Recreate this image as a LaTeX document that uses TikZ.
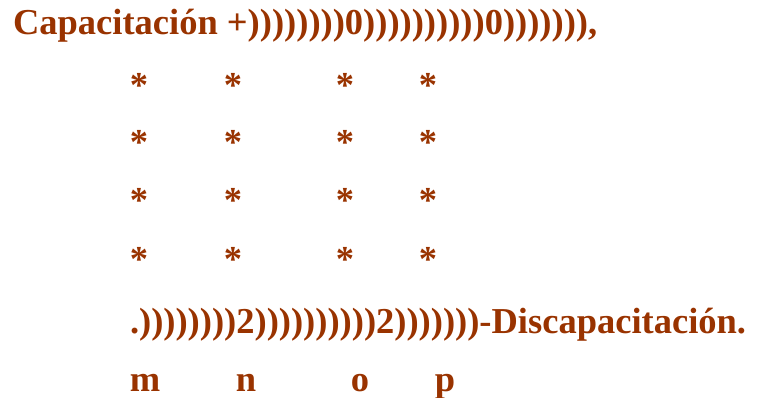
\documentclass[tikz,border=0pt]{standalone}
\usepackage{fontspec}
\setmainfont{Liberation Serif}
\definecolor{rust}{RGB}{153,51,0}
\begin{document}
\begin{tikzpicture}[x=1pt,y=-1pt,
  every node/.style={inner sep=0pt,outer sep=0pt,text=rust,font=\fontsize{36.5}{40}\selectfont\bfseries},
  lineleft/.style={anchor=base west},
  mark glyph/.style={anchor=base}]
\useasboundingbox (0,0) rectangle (762,398);
\node[lineleft] (top) at (13,35) {Capacitación +))))))))0))))))))))0))))))),};
\foreach \r/\yy in {1/98,2/155,3/212,4/271}{
  \foreach \c/\xx in {a/139,b/233,c/345,d/428}{
    \node[mark glyph] (s\r\c) at (\xx,\yy) {*};
  }
}
\node[lineleft] (bottom) at (130,333) {.))))))))2))))))))))2)))))))-Discapacitación.};
\node[mark glyph] (m) at (145,391) {m};
\node[mark glyph] (n) at (246,391) {n};
\node[mark glyph] (o) at (360,391) {o};
\node[mark glyph] (p) at (445,391) {p};
\end{tikzpicture}
\end{document}
